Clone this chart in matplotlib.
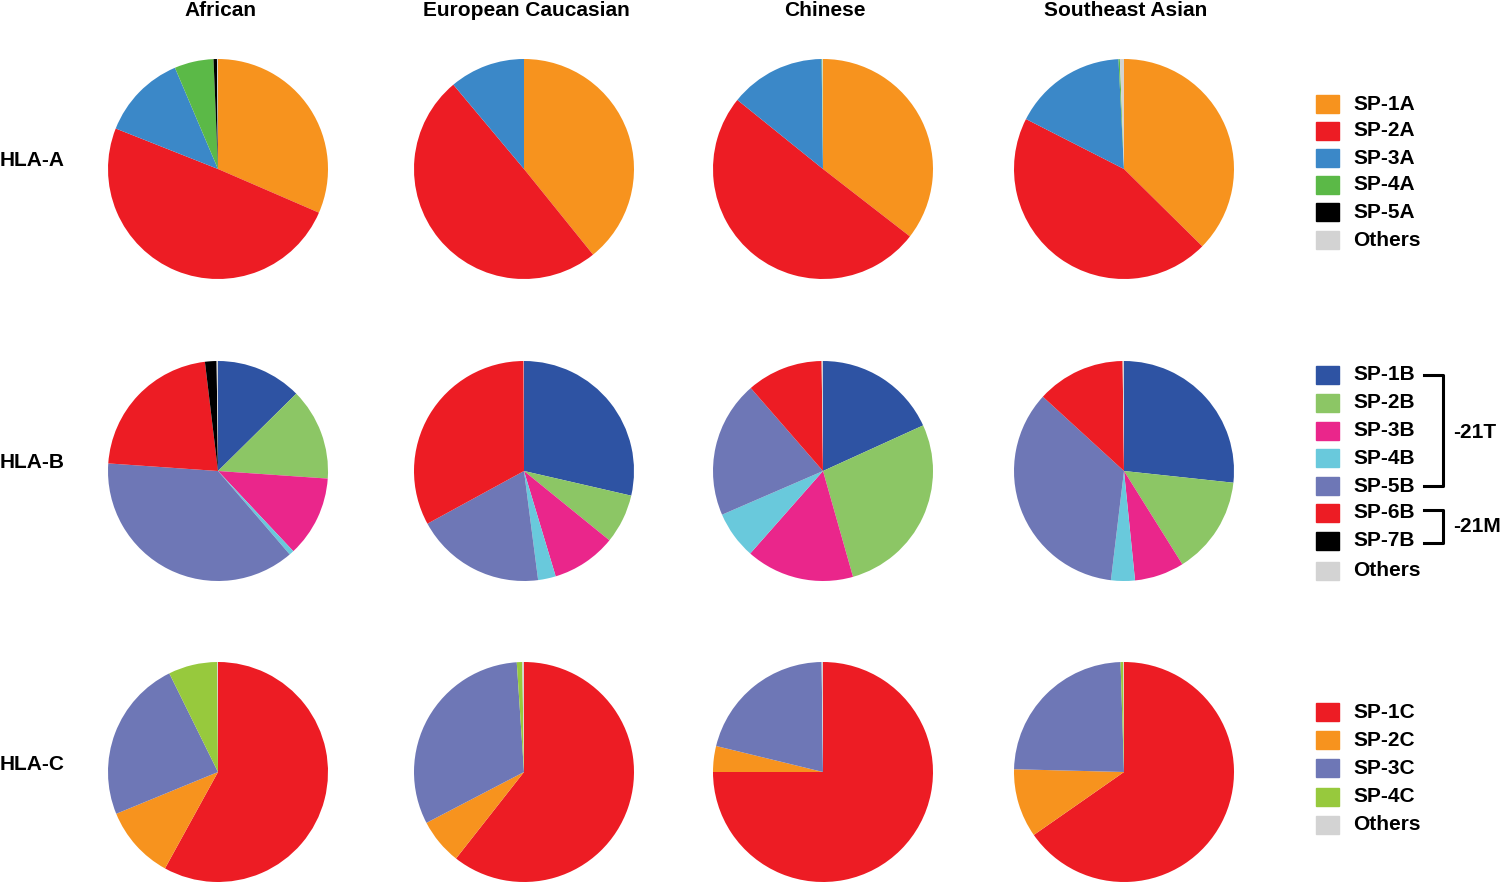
import matplotlib.pyplot as plt

plt.rcParams['font.family'] = ['Liberation Sans', 'DejaVu Sans']
plt.rcParams['font.weight'] = 'bold'

populations = ["African", "European Caucasian", "Chinese", "Southeast Asian"]
genes = ["HLA-A", "HLA-B", "HLA-C"]

# signal peptide groups per gene, same order as the legend
labels_a = ["SP-1A", "SP-2A", "SP-3A", "SP-4A", "SP-5A", "Others"]
labels_b = ["SP-1B", "SP-2B", "SP-3B", "SP-4B", "SP-5B", "SP-6B", "SP-7B", "Others"]
labels_c = ["SP-1C", "SP-2C", "SP-3C", "SP-4C", "Others"]

colors_a = ["#F7931E", "#ED1C24", "#3B88C8", "#5BB947", "#000000", "#D3D3D3"]
colors_b = ["#2E53A3", "#8CC665", "#EA268B", "#69C9DC", "#6E77B6", "#ED1C24", "#000000", "#D3D3D3"]
colors_c = ["#ED1C24", "#F7931E", "#6E77B6", "#97C93D", "#D3D3D3"]

# frequencies (%), one list per population
hla_a = [
    [31.5, 49.5, 12.6, 5.75, 0.5, 0.15],
    [39.2, 49.7, 11.1, 0.0, 0.0, 0.0],
    [35.5, 50.3, 14.0, 0.1, 0.0, 0.1],
    [37.4, 45.1, 16.7, 0.2, 0.0, 0.6],
]
hla_b = [
    [12.6, 13.5, 11.9, 0.7, 37.4, 22.0, 1.7, 0.2],
    [28.6, 7.25, 9.5, 2.6, 19.1, 32.9, 0.0, 0.05],
    [18.2, 27.4, 15.9, 7.0, 20.1, 11.2, 0.0, 0.2],
    [26.7, 14.4, 7.3, 3.5, 34.9, 13.0, 0.0, 0.2],
]
hla_c = [
    [58.0, 10.8, 23.9, 7.2, 0.1],
    [60.6, 6.75, 31.6, 0.8, 0.25],
    [75.0, 3.8, 21.0, 0.0, 0.2],
    [65.3, 10.1, 24.1, 0.4, 0.1],
]

W, H = 1500, 882
fig = plt.figure(figsize=(W / 100, H / 100), dpi=100)

col_x = [218, 524, 823, 1124]
row_y = [169, 471, 772]
r = 110
fs = 15

rows = [(hla_a, colors_a), (hla_b, colors_b), (hla_c, colors_c)]
for i, (data, cols) in enumerate(rows):
    for j, vals in enumerate(data):
        cx, cy = col_x[j], row_y[i]
        ax = fig.add_axes([(cx - r) / W, (H - cy - r) / H, 2 * r / W, 2 * r / H])
        ax.pie(vals, colors=cols, startangle=90, counterclock=False,
               wedgeprops=dict(linewidth=0))
        ax.set_xlim(-1, 1)
        ax.set_ylim(-1, 1)
        ax.axis('off')

# overlay for text, legend swatches and brackets, in pixel units
ov = fig.add_axes([0, 0, 1, 1], zorder=-1)
ov.set_xlim(0, W)
ov.set_ylim(H, 0)
ov.axis('off')

for j, name in enumerate(populations):
    ov.text(col_x[j] + 2, 11, name, ha='center', va='center', fontsize=fs, fontweight='bold')
for i, g in enumerate(genes):
    ov.text(0, row_y[i] - 8, g, ha='left', va='center', fontsize=fs, fontweight='bold')

legend_groups = [
    (labels_a, colors_a, [104, 131, 158, 185, 212, 240]),
    (labels_b, colors_b, [375, 403, 431, 458, 486, 513, 541, 571]),
    (labels_c, colors_c, [712, 740, 768, 797, 825]),
]
for labels, cols, ys in legend_groups:
    for lab, c, y in zip(labels, cols, ys):
        ov.add_patch(plt.Rectangle((1316, y - 9), 23, 18, color=c))
        ov.text(1353, y, lab, ha='left', va='center', fontsize=fs, fontweight='bold')

# brackets grouping the HLA-B signal peptides
lw = 2.2
ov.plot([1424, 1443, 1443, 1424], [375, 375, 486, 486], color='black', lw=lw)
ov.plot([1424, 1443, 1443, 1424], [510, 510, 543, 543], color='black', lw=lw)
ov.text(1453, 432, "-21T", ha='left', va='center', fontsize=fs, fontweight='bold')
ov.text(1453, 527, "-21M", ha='left', va='center', fontsize=fs, fontweight='bold')

fig.savefig("out.png", dpi=100)
